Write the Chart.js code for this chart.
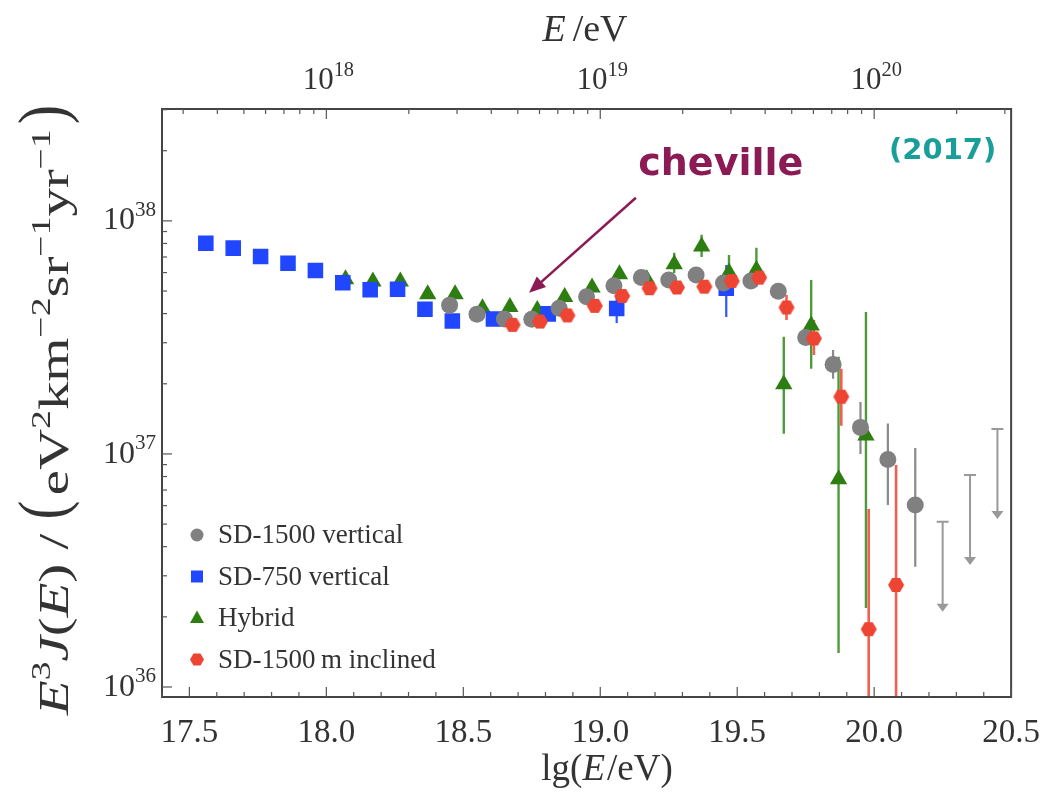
<!DOCTYPE html>
<html>
<head>
<meta charset="utf-8">
<script src="https://cdn.jsdelivr.net/npm/chart.js@4.4.1/dist/chart.umd.min.js"></script>
<style>
  html, body { margin: 0; padding: 0; background: #fff; }
  canvas { display: block; }
</style>
</head>
<body>
<canvas id="grafico" width="1049" height="796"></canvas>
<script>
// lg(E/eV) e E^3 J(E) em eV^2 km^-2 sr^-1 yr^-1
var sd1500X = [18.45, 18.55, 18.65, 18.75, 18.85, 18.95, 19.05, 19.15, 19.25, 19.35, 19.45, 19.55, 19.65, 19.75, 19.85, 19.95, 20.05, 20.15];
var sd1500Y = [4.35e37, 3.98e37, 3.79e37, 3.78e37, 4.22e37, 4.73e37, 5.27e37, 5.71e37, 5.58e37, 5.86e37, 5.41e37, 5.52e37, 4.99e37, 3.16e37, 2.42e37, 1.30e37, 9.46e36, 6.04e36];
var sd1500Lo = [null, null, null, null, null, null, null, null, null, null, null, null, null, 2.93e37, 2.10e37, 1.0e37, 6.04e36, 3.28e36];
var sd1500Hi = [null, null, null, null, null, null, null, null, null, null, null, null, null, 3.34e37, 2.79e37, 1.67e37, 1.35e37, 1.06e37];

// limites superiores (setas)
var limiteX = [20.25, 20.35, 20.45];
var limiteY = [5.12e36, 8.13e36, 1.28e37];

var sd750X = [17.56, 17.66, 17.76, 17.86, 17.96, 18.06, 18.16, 18.26, 18.36, 18.46, 18.61, 18.81, 19.06, 19.46];
var sd750Y = [8.02e37, 7.64e37, 7.03e37, 6.58e37, 6.12e37, 5.43e37, 5.06e37, 5.09e37, 4.18e37, 3.72e37, 3.79e37, 3.99e37, 4.21e37, 5.14e37];
var sd750Lo = [null, null, null, null, null, null, null, null, null, null, null, null, 3.65e37, 3.87e37];
var sd750Hi = [null, null, null, null, null, null, null, null, null, null, null, null, 4.81e37, 6.47e37];

var hibridoX = [18.07, 18.17, 18.27, 18.37, 18.47, 18.57, 18.67, 18.77, 18.87, 18.97, 19.07, 19.17, 19.27, 19.37, 19.47, 19.57, 19.67, 19.77, 19.87, 19.97];
var hibridoY = [5.62e37, 5.50e37, 5.50e37, 4.84e37, 4.84e37, 4.22e37, 4.27e37, 4.15e37, 4.71e37, 5.18e37, 5.90e37, 5.62e37, 6.52e37, 7.76e37, 6.00e37, 6.17e37, 1.99e37, 3.56e37, 7.78e36, 1.20e37];
var hibridoLo = [null, null, null, null, null, null, null, null, null, null, null, 5.3e37, 5.98e37, 7.0e37, 5.06e37, 5.21e37, 1.22e37, 2.32e37, 1.40e36, 2.18e36];
var hibridoHi = [null, null, null, null, null, null, null, null, null, null, null, 6.0e37, 7.29e37, 8.71e37, 7.14e37, 7.66e37, 3.18e37, 5.58e37, 2.61e37, 4.06e37];

var inclinadoX = [18.68, 18.78, 18.88, 18.98, 19.08, 19.18, 19.28, 19.38, 19.48, 19.58, 19.68, 19.78, 19.88, 19.98, 20.08];
var inclinadoY = [3.58e37, 3.70e37, 3.93e37, 4.32e37, 4.76e37, 5.14e37, 5.18e37, 5.22e37, 5.52e37, 5.71e37, 4.25e37, 3.13e37, 1.76e37, 1.77e36, 2.74e36];
var inclinadoLo = [null, null, null, null, null, null, null, null, null, null, 3.76e37, 2.66e37, 1.32e37, 1e35, 1e35];
var inclinadoHi = [null, null, null, null, null, null, null, null, null, null, 4.81e37, 3.76e37, 2.32e37, 5.80e36, 8.97e36];

var rotulosLegenda = ["SD-1500 vertical", "SD-750 vertical", "Hybrid", "SD-1500\u2009m inclined"];
var ticksX = [17.5, 18.0, 18.5, 19.0, 19.5, 20.0, 20.5];
var ticksTopo = [18, 19, 20];
var ticksY = [1e36, 1e37, 1e38];

var fonteSerif = '"Liberation Serif", "DejaVu Serif", serif';
var corTexto = "#333";

function pontos(xs, ys) {
  return xs.map(function (x, i) { return { x: x, y: ys[i] }; });
}

// marcador hexagonal (Chart.js nao tem esse pointStyle)
function hexagono(raio, cor) {
  var c = document.createElement("canvas");
  c.width = c.height = Math.ceil(raio * 2 + 2);
  var g = c.getContext("2d");
  var m = c.width / 2;
  g.beginPath();
  for (var i = 0; i < 6; i++) {
    var a = Math.PI / 3 * i;
    var px = m + raio * Math.cos(a), py = m + raio * Math.sin(a);
    if (i === 0) g.moveTo(px, py); else g.lineTo(px, py);
  }
  g.closePath();
  g.fillStyle = cor;
  g.fill();
  return c;
}

var estilos = [
  { cor: "#808080", barra: "#8a8a8a", estilo: "circle", raio: 8.5 },
  { cor: "#2146ff", barra: "#3355ff", estilo: "rect", raio: 11 },
  { cor: "#2e7d10", barra: "#4e9a3a", estilo: "triangle", raio: 10 },
  { cor: "#ee4433", barra: "#f06050", estilo: hexagono(8, "#ee4433"), raio: 8 }
];

var barras = [
  { xs: sd1500X, lo: sd1500Lo, hi: sd1500Hi, cor: estilos[0].barra, w: 2.2 },
  { xs: sd750X, lo: sd750Lo, hi: sd750Hi, cor: estilos[1].barra, w: 2.2 },
  { xs: hibridoX, lo: hibridoLo, hi: hibridoHi, cor: estilos[2].barra, w: 2.4 },
  { xs: inclinadoX, lo: inclinadoLo, hi: inclinadoHi, cor: estilos[3].barra, w: 2.6 }
];

// texto com trechos em italico / sobrescrito; alinhar: "center" ou "right"
function desenharTrechos(ctx, trechos, cx, cy, tam, alinhar, comprimento) {
  var med = trechos.map(function (t) {
    var s = t.sup ? tam * 0.66 : tam;
    var f = (t.it ? "italic " : "") + s + "px " + fonteSerif;
    ctx.font = f;
    return { t: t, f: f, w: ctx.measureText(t.txt).width + (t.gap || 0) };
  });
  var total = med.reduce(function (a, m) { return a + m.w; }, 0);
  var esc = comprimento ? comprimento / total : 1;
  ctx.save();
  ctx.translate(cx, cy);
  ctx.scale(esc, 1);
  var x = alinhar === "right" ? -total : -total / 2;
  var base = tam * 0.33;
  ctx.textAlign = "left";
  ctx.textBaseline = "alphabetic";
  med.forEach(function (m) {
    var y = base;
    if (m.t.sup) y -= tam * 0.42;
    ctx.font = m.f;
    if (m.t.grande) {
      // parentese alto: estica so na altura
      ctx.save();
      ctx.translate(x, -tam * 0.3);
      ctx.scale(1, 1.6);
      ctx.fillText(m.t.txt, 0, tam * 0.3 + tam * 0.05);
      ctx.restore();
    } else {
      ctx.fillText(m.t.txt, x, y);
    }
    x += m.w;
  });
  ctx.restore();
}

var pluginExtras = {
  id: "extras",
  beforeDatasetsDraw: function (chart) {
    var ctx = chart.ctx, a = chart.chartArea;
    var xs = chart.scales.x, ys = chart.scales.y;
    ctx.save();
    ctx.beginPath();
    ctx.rect(a.left, a.top, a.right - a.left, a.bottom - a.top);
    ctx.clip();
    barras.forEach(function (b) {
      ctx.strokeStyle = b.cor;
      ctx.lineWidth = b.w;
      b.xs.forEach(function (x, i) {
        if (b.lo[i] == null) return;
        var px = xs.getPixelForValue(x);
        ctx.beginPath();
        ctx.moveTo(px, ys.getPixelForValue(b.lo[i]));
        ctx.lineTo(px, ys.getPixelForValue(b.hi[i]));
        ctx.stroke();
      });
    });
    // limites superiores
    ctx.strokeStyle = "#999";
    ctx.fillStyle = "#999";
    ctx.lineWidth = 2;
    limiteX.forEach(function (x, i) {
      var px = xs.getPixelForValue(x);
      var py = ys.getPixelForValue(limiteY[i]);
      var comp = 90;
      ctx.beginPath();
      ctx.moveTo(px - 6, py); ctx.lineTo(px + 6, py);
      ctx.moveTo(px, py); ctx.lineTo(px, py + comp - 6);
      ctx.stroke();
      ctx.beginPath();
      ctx.moveTo(px - 6, py + comp - 8);
      ctx.lineTo(px + 6, py + comp - 8);
      ctx.lineTo(px, py + comp);
      ctx.closePath();
      ctx.fill();
    });
    ctx.restore();
  },
  afterDraw: function (chart) {
    var ctx = chart.ctx, a = chart.chartArea;
    var xs = chart.scales.x, ys = chart.scales.y, xt = chart.scales.xTopo;
    ctx.save();

    // moldura
    ctx.strokeStyle = "#444";
    ctx.lineWidth = 2;
    ctx.strokeRect(a.left, a.top, a.right - a.left, a.bottom - a.top);

    // ticks para dentro
    ctx.lineWidth = 1.2;
    ctx.strokeStyle = "#555";
    var i, v, px, len;
    for (i = 174; i <= 205; i++) {
      v = i / 10;
      px = xs.getPixelForValue(v);
      len = (i % 5 === 0) ? 10 : 5;
      ctx.beginPath(); ctx.moveTo(px, a.bottom); ctx.lineTo(px, a.bottom - len); ctx.stroke();
    }
    for (var n = 17; n <= 20; n++) {
      for (var k = 1; k <= 9; k++) {
        v = n + Math.log10(k);
        if (v < 17.4 || v > 20.5) continue;
        px = xt.getPixelForValue(v);
        len = k === 1 ? 10 : 5;
        ctx.beginPath(); ctx.moveTo(px, a.top); ctx.lineTo(px, a.top + len); ctx.stroke();
      }
    }
    for (n = 35; n <= 38; n++) {
      for (k = 1; k <= 9; k++) {
        v = k * Math.pow(10, n);
        if (v < ys.min || v > ys.max) continue;
        var py = ys.getPixelForValue(v);
        len = k === 1 ? 10 : 5;
        ctx.beginPath(); ctx.moveTo(a.left, py); ctx.lineTo(a.left + len, py); ctx.stroke();
      }
    }

    // rotulos com potencia de 10
    ctx.fillStyle = corTexto;
    xt.ticks.forEach(function (t) {
      desenharTrechos(ctx, [{ txt: "10" }, { txt: String(Math.round(t.value)), sup: true }],
        xt.getPixelForValue(t.value) + 2, a.top - 30, 31);
    });
    ys.ticks.forEach(function (t) {
      desenharTrechos(ctx, [{ txt: "10" }, { txt: String(Math.round(Math.log10(t.value))), sup: true }],
        a.left - 6, ys.getPixelForValue(t.value) - 2, 32, "right");
    });

    // titulos dos eixos
    desenharTrechos(ctx, [
      { txt: "E", it: true, gap: 7 }, { txt: "/eV" }
    ], 585, 28, 38);
    desenharTrechos(ctx, [
      { txt: "lg" }, { txt: "(" }, { txt: "E", it: true, gap: 2 }, { txt: "/eV" }, { txt: ")" }
    ], 607, 768, 37);
    ctx.save();
    ctx.translate(54, 410);
    ctx.rotate(-Math.PI / 2);
    desenharTrechos(ctx, [
      { txt: "E", it: true }, { txt: "3", sup: true }, { txt: "J", it: true },
      { txt: "(" }, { txt: "E", it: true }, { txt: ")" }, { txt: " / " },
      { txt: "(", grande: true, gap: 4 }, { txt: "eV" }, { txt: "2", sup: true }, { txt: "km" },
      { txt: "\u22122", sup: true }, { txt: "sr" }, { txt: "\u22121", sup: true },
      { txt: "yr" }, { txt: "\u22121", sup: true, gap: 4 }, { txt: ")", grande: true }
    ], 0, 0, 42, "center", 610);
    ctx.restore();

    // legenda dentro do grafico
    var lx = a.left + 35, ly = a.bottom - 162;
    ctx.font = "27px " + fonteSerif;
    ctx.textBaseline = "middle";
    ctx.textAlign = "left";
    rotulosLegenda.forEach(function (txt, j) {
      var y = ly + j * 41.5;
      var e = estilos[j];
      ctx.fillStyle = e.cor;
      ctx.beginPath();
      if (e.estilo === "circle") {
        ctx.arc(lx, y, 6.5, 0, Math.PI * 2);
      } else if (e.estilo === "rect") {
        ctx.rect(lx - 6, y - 6, 12, 12);
      } else if (e.estilo === "triangle") {
        ctx.moveTo(lx, y - 7.5); ctx.lineTo(lx + 7, y + 5); ctx.lineTo(lx - 7, y + 5); ctx.closePath();
      } else {
        for (var q = 0; q < 6; q++) {
          var ang = Math.PI / 3 * q;
          ctx.lineTo(lx + 7 * Math.cos(ang), y + 7 * Math.sin(ang));
        }
        ctx.closePath();
      }
      ctx.fill();
      ctx.fillStyle = corTexto;
      ctx.fillText(txt, lx + 21, y + 1);
    });

    // anotacoes
    var cor = "#8b1a55";
    var x0 = xs.getPixelForValue(19.13), y0 = ys.getPixelForValue(1.256e38);
    var x1 = xs.getPixelForValue(18.74), y1 = ys.getPixelForValue(4.91e37);
    var ang2 = Math.atan2(y1 - y0, x1 - x0);
    ctx.strokeStyle = cor;
    ctx.fillStyle = cor;
    ctx.lineWidth = 2.5;
    ctx.beginPath();
    ctx.moveTo(x0, y0);
    ctx.lineTo(x1 - 12 * Math.cos(ang2), y1 - 12 * Math.sin(ang2));
    ctx.stroke();
    ctx.beginPath();
    ctx.moveTo(x1, y1);
    ctx.lineTo(x1 - 18 * Math.cos(ang2 - 0.4), y1 - 18 * Math.sin(ang2 - 0.4));
    ctx.lineTo(x1 - 18 * Math.cos(ang2 + 0.4), y1 - 18 * Math.sin(ang2 + 0.4));
    ctx.closePath();
    ctx.fill();

    ctx.textAlign = "center";
    ctx.textBaseline = "middle";
    ctx.font = 'bold 38px "DejaVu Sans", sans-serif';
    ctx.fillText("cheville", xs.getPixelForValue(19.44), ys.getPixelForValue(1.74e38));
    ctx.fillStyle = "#1a9e9a";
    ctx.font = 'bold 29px "DejaVu Sans", sans-serif';
    ctx.fillText("(2017)", xs.getPixelForValue(20.25), ys.getPixelForValue(1.98e38));

    ctx.restore();
  }
};

function conjunto(rotulo, xs, ys, e, ordem) {
  return {
    label: rotulo,
    data: pontos(xs, ys),
    pointStyle: e.estilo,
    pointRadius: e.raio,
    pointHoverRadius: e.raio,
    backgroundColor: e.cor,
    borderColor: e.cor,
    borderWidth: 0,
    showLine: false,
    order: ordem
  };
}

document.addEventListener("DOMContentLoaded", function () {
  var ctx = document.getElementById("grafico").getContext("2d");

  new Chart(ctx, {
    type: "scatter",
    data: {
      datasets: [
        conjunto(rotulosLegenda[0], sd1500X, sd1500Y, estilos[0], 1),
        conjunto(rotulosLegenda[1], sd750X, sd750Y, estilos[1], 2),
        conjunto(rotulosLegenda[2], hibridoX, hibridoY, estilos[2], 3),
        conjunto(rotulosLegenda[3], inclinadoX, inclinadoY, estilos[3], 0)
      ]
    },
    options: {
      responsive: false,
      animation: false,
      devicePixelRatio: 1,
      layout: { padding: { left: 0, right: 35, top: 0, bottom: 0 } },
      plugins: {
        legend: { display: false },
        tooltip: { enabled: false }
      },
      scales: {
        x: {
          type: "linear",
          position: "bottom",
          min: 17.4,
          max: 20.5,
          grid: { display: false },
          border: { display: false },
          afterBuildTicks: function (s) {
            s.ticks = ticksX.map(function (v) { return { value: v }; });
          },
          afterFit: function (s) { s.height = 99; },
          ticks: {
            autoSkip: false,
            maxRotation: 0,
            padding: 9,
            color: corTexto,
            font: { family: fonteSerif, size: 33 },
            callback: function (v) { return Number(v).toFixed(1); }
          }
        },
        xTopo: {
          type: "linear",
          position: "top",
          min: 17.4,
          max: 20.5,
          grid: { display: false },
          border: { display: false },
          afterBuildTicks: function (s) {
            s.ticks = ticksTopo.map(function (v) { return { value: v }; });
          },
          afterFit: function (s) { s.height = 109; },
          ticks: { display: false }
        },
        y: {
          type: "logarithmic",
          position: "left",
          min: 9.06e35,
          max: 3.02e38,
          grid: { display: false },
          border: { display: false },
          afterBuildTicks: function (s) {
            s.ticks = ticksY.map(function (v) { return { value: v }; });
          },
          afterFit: function (s) { s.width = 162; },
          ticks: { display: false }
        }
      }
    },
    plugins: [pluginExtras]
  });
});
</script>
</body>
</html>
